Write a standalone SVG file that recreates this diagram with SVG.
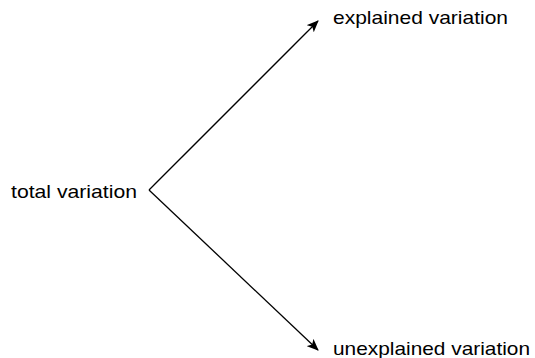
<svg xmlns="http://www.w3.org/2000/svg" width="535" height="358" viewBox="0 0 535 358">
<style>
  text { font-family: "Liberation Sans", Arial, sans-serif; font-size: 19px; fill: #000; }
  .edge { stroke: #000; stroke-width: 1.3; fill: none; }
</style>
<defs>
  <marker id="arr" viewBox="0 0 12 10" refX="11" refY="5" markerWidth="12" markerHeight="10" markerUnits="userSpaceOnUse" orient="auto">
    <path d="M0,0 L12,5 L0,10 L3,5 z" fill="#000"/>
  </marker>
</defs>
<rect width="535" height="358" fill="#fff"/>
<g id="connectors">
  <path class="edge" d="M149,190 L318,21" marker-end="url(#arr)"/>
  <path class="edge" d="M149,190 L318,350" marker-end="url(#arr)"/>
</g>
<g id="total">
  <text x="11" y="198" textLength="126" lengthAdjust="spacingAndGlyphs">total variation</text>
</g>
<g id="explained">
  <text x="333" y="24" textLength="175" lengthAdjust="spacingAndGlyphs">explained variation</text>
</g>
<g id="unexplained">
  <text x="333" y="355" textLength="197" lengthAdjust="spacingAndGlyphs">unexplained variation</text>
</g>
</svg>
